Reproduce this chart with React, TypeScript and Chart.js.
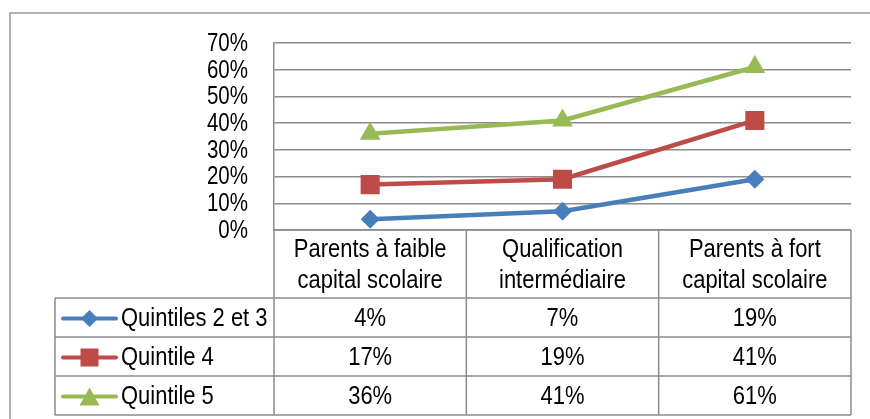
import React, { useEffect, useRef } from "react";
import { Chart, registerables } from "chart.js";
Chart.register(...registerables);

const categories: string[][] = [
  ["Parents à faible", "capital scolaire"],
  ["Qualification", "intermédiaire"],
  ["Parents à fort", "capital scolaire"],
];
const seriesNames = ["Quintiles 2 et 3", "Quintile 4", "Quintile 5"];
const quintiles23 = [0.04, 0.07, 0.19];
const quintile4 = [0.17, 0.19, 0.41];
const quintile5 = [0.36, 0.41, 0.61];
const yMin = 0;
const yMax = 0.7;
const yStep = 0.1;

const COLORS = ["#4A7EBB", "#BE4B48", "#98B954"];
const STYLES = ["rectRot", "rect", "triangle"];
const GRID = "#8c8c8c";

function fillNarrow(ctx: CanvasRenderingContext2D, text: string, x: number, y: number, align: CanvasTextAlign, size = 26, narrow = 0.845) {
  ctx.save();
  ctx.translate(x, y);
  ctx.scale(narrow, 1);
  ctx.font = `${size}px "Liberation Sans", Arial, sans-serif`;
  ctx.fillStyle = "#000";
  ctx.textAlign = align;
  ctx.textBaseline = "middle";
  ctx.fillText(text, 0, 0);
  ctx.restore();
}

function drawMarker(ctx: CanvasRenderingContext2D, style: string, x: number, y: number, color: string) {
  ctx.fillStyle = color;
  ctx.beginPath();
  if (style === "rectRot") {
    const r = 8.5;
    ctx.moveTo(x, y - r);
    ctx.lineTo(x + r, y);
    ctx.lineTo(x, y + r);
    ctx.lineTo(x - r, y);
  } else if (style === "rect") {
    const s = 9;
    ctx.rect(x - s, y - s, 2 * s, 2 * s);
  } else {
    const w = 10, h = 9;
    ctx.moveTo(x, y - h);
    ctx.lineTo(x + w, y + h);
    ctx.lineTo(x - w, y + h);
  }
  ctx.closePath();
  ctx.fill();
}

const tablePlugin = {
  id: "dataTable",
  afterDraw(chart: any) {
    const ctx: CanvasRenderingContext2D = chart.ctx;
    const area = chart.chartArea;
    const yScale = chart.scales.y;
    const n = categories.length;
    const colW = (area.right - area.left) / n;
    const headerTop = area.bottom;
    const headerH = 68;
    const rowH = 39;
    const headerBottom = headerTop + headerH;
    const tableBottom = headerBottom + rowH * seriesNames.length;
    const legendLeft = 55;

    ctx.save();
    yScale.ticks.forEach((t: any) => {
      const y = yScale.getPixelForValue(t.value);
      fillNarrow(ctx, `${Math.round(t.value * 100)}%`, area.left - 26, y + 1, "right", 25, 0.82);
    });

    ctx.strokeStyle = "#9a9a9a";
    ctx.lineWidth = 1.5;
    ctx.beginPath();
    ctx.moveTo(10, 430);
    ctx.lineTo(10, 13);
    ctx.lineTo(880, 13);
    ctx.stroke();

    ctx.strokeStyle = GRID;
    ctx.beginPath();
    for (let i = 0; i <= n; i++) {
      const x = area.left + i * colW;
      ctx.moveTo(x, headerTop);
      ctx.lineTo(x, tableBottom);
    }
    ctx.moveTo(legendLeft, headerBottom);
    ctx.lineTo(legendLeft, tableBottom);
    ctx.moveTo(area.left, headerTop);
    ctx.lineTo(area.right, headerTop);
    for (let r = 0; r <= seriesNames.length; r++) {
      const y = headerBottom + r * rowH;
      ctx.moveTo(legendLeft, y);
      ctx.lineTo(area.right, y);
    }
    ctx.stroke();

    const hc = headerTop + headerH / 2;
    categories.forEach((lines, i) => {
      const cx = area.left + (i + 0.5) * colW;
      lines.forEach((ln, j) => {
        fillNarrow(ctx, ln, cx, hc + (j - (lines.length - 1) / 2) * 31 + 1, "center");
      });
    });

    chart.data.datasets.forEach((ds: any, r: number) => {
      const cy = headerBottom + (r + 0.5) * rowH + 1;
      ds.data.forEach((v: number, i: number) => {
        const cx = area.left + (i + 0.5) * colW;
        fillNarrow(ctx, `${Math.round(v * 100)}%`, cx, cy, "center");
      });
      ctx.strokeStyle = COLORS[r];
      ctx.lineWidth = 4;
      ctx.lineCap = "round";
      ctx.beginPath();
      ctx.moveTo(63, cy);
      ctx.lineTo(116, cy);
      ctx.stroke();
      drawMarker(ctx, STYLES[r], 89.5, cy, COLORS[r]);
      fillNarrow(ctx, ds.label, 121, cy, "left");
    });
    ctx.restore();
  },
};

export default function App() {
  const ref = useRef<HTMLCanvasElement>(null);
  useEffect(() => {
    if (!ref.current) return;
    const series = [quintiles23, quintile4, quintile5];
    const chart = new Chart(ref.current, {
      type: "line",
      data: {
        labels: categories.map((c) => c.join(" ")),
        datasets: series.map((d, i) => ({
          label: seriesNames[i],
          data: d,
          borderColor: COLORS[i],
          backgroundColor: COLORS[i],
          borderWidth: 4.5,
          pointStyle: STYLES[i] as any,
          pointRadius: i === 0 ? 9.5 : i === 1 ? 13.5 : 12,
          pointBorderWidth: 0,
          tension: 0,
        })),
      },
      options: {
        animation: false,
        responsive: false,
        events: [],
        layout: { padding: { left: 0, right: 19, top: 43, bottom: 189 } },
        plugins: { legend: { display: false }, tooltip: { enabled: false } },
        scales: {
          x: { display: false, offset: true },
          y: {
            min: yMin,
            max: yMax,
            afterFit: (s: any) => {
              s.width = 274;
            },
            ticks: {
              display: false,
              stepSize: yStep,
              autoSkip: false,
            },
            grid: { color: GRID, lineWidth: 1.5, drawTicks: false },
            border: { display: true, color: GRID, width: 1.5 },
          },
        },
      },
      plugins: [tablePlugin],
    });
    return () => chart.destroy();
  }, []);
  return (
    <div style={{ position: "absolute", left: 0, top: 0, width: 870, height: 419 }}>
      <canvas ref={ref} width={870} height={419} />
    </div>
  );
}
